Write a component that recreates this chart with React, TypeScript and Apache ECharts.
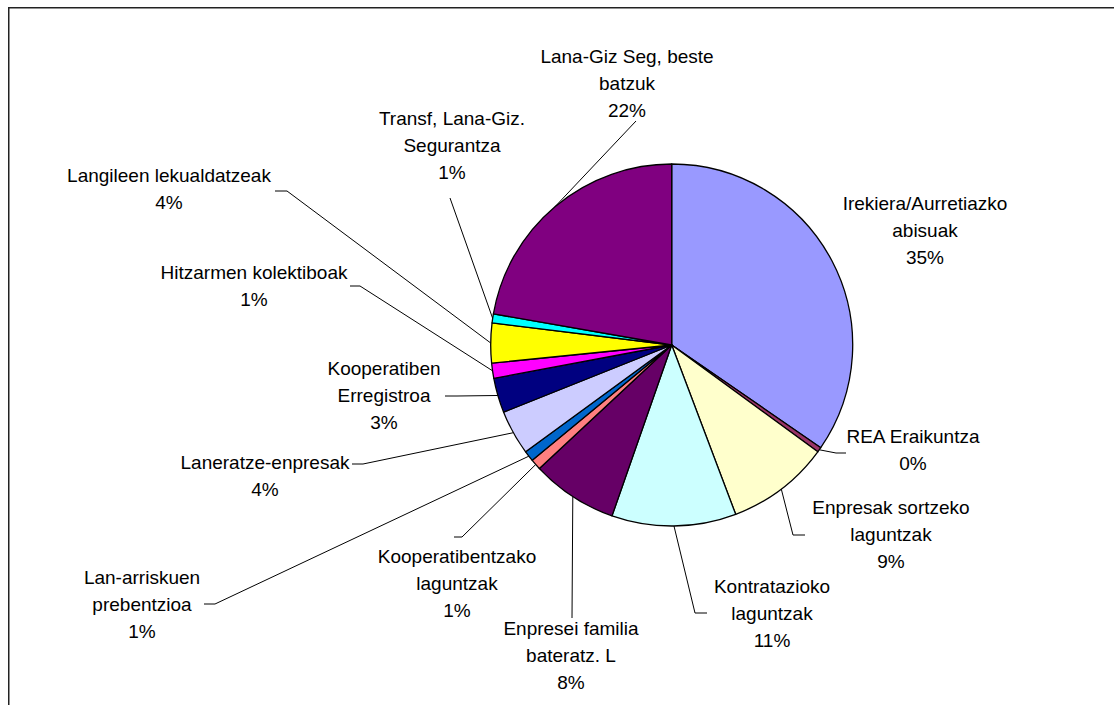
import React, { useEffect, useRef } from 'react';
import * as echarts from 'echarts';

const categories = [
  'Irekiera/Aurretiazko\nabisuak',
  'REA Eraikuntza',
  'Enpresak sortzeko\nlaguntzak',
  'Kontratazioko\nlaguntzak',
  'Enpresei familia\nbateratz. L',
  'Kooperatibentzako\nlaguntzak',
  'Lan-arriskuen\nprebentzioa',
  'Laneratze-enpresak',
  'Kooperatiben\nErregistroa',
  'Hitzarmen kolektiboak',
  'Langileen lekualdatzeak',
  'Transf, Lana-Giz.\nSegurantza',
  'Lana-Giz Seg, beste\nbatzuk',
];

const values = [34.6, 0.45, 9.2, 11.1, 7.7, 0.95, 0.95, 4.0, 3.1, 1.35, 3.55, 0.8, 22.25];

const colors = [
  '#9999FF', '#993366', '#FFFFCC', '#CCFFFF', '#660066', '#FF8080', '#0066CC',
  '#CCCCFF', '#000080', '#FF00FF', '#FFFF00', '#00FFFF', '#800080',
];

// label placement: [centerX, centerY, elbowX, elbowY, endX, endY]
const labelPos: number[][] = [
  [925, 230],
  [913, 450, 836, 453, 846, 453],
  [891, 534, 793, 535, 805, 535],
  [772, 613, 695, 613, 707, 613],
  [571, 655, 572, 618, 572, 618],
  [457, 583, 462, 537, 454, 537],
  [142, 604, 215, 604, 204, 604],
  [265, 476, 363, 464, 352, 464],
  [384, 395, 457, 396, 445, 396],
  [254, 286, 360, 286, 350, 286],
  [169, 189, 287, 191, 275, 191],
  [452, 145, 450, 198, 450, 198],
  [627, 83, 636, 121, 636, 121],
];

export default function App() {
  const ref = useRef<HTMLDivElement>(null);
  useEffect(() => {
    document.documentElement.style.overflow = 'hidden';
    const chart = echarts.init(ref.current!, null, { renderer: 'svg' });
    chart.setOption({
      animation: false,
      backgroundColor: '#ffffff',
      graphic: [
        { type: 'line', shape: { x1: 8, y1: 7.75, x2: 1114, y2: 7.75 }, style: { stroke: '#222', lineWidth: 1.5 } },
        { type: 'line', shape: { x1: 8.75, y1: 7, x2: 8.75, y2: 705 }, style: { stroke: '#222', lineWidth: 1.5 } },
      ],
      series: [
        {
          type: 'pie',
          center: [671.7, 345],
          radius: 181,
          startAngle: 90,
          clockwise: true,
          avoidLabelOverlap: false,
          minAngle: 0,
          emphasis: { disabled: true },
          data: categories.map((n, i) => ({
            name: n,
            value: values[i],
            itemStyle: { color: colors[i] },
            labelLine: { show: labelPos[i].length > 2 },
          })),
          itemStyle: { borderColor: '#000', borderWidth: 1.3 },
          label: {
            show: true,
            position: 'outside',
            formatter: (p: any) => `${p.name}\n${Math.round(p.percent)}%`,
            color: '#000',
            fontSize: 19,
            lineHeight: 27,
            fontFamily: 'Arial, "Liberation Sans", sans-serif',
            align: 'center',
          },
          labelLine: {
            show: true,
            length: 10,
            length2: 10,
            lineStyle: { color: '#000', width: 1 },
          },
          labelLayout: (params: any) => {
            const p = labelPos[params.dataIndex];
            const res: any = { x: p[0], y: p[1], align: 'center', verticalAlign: 'middle' };
            const pts = params.labelLinePoints;
            if (p.length > 2 && pts && pts[0]) {
              res.labelLinePoints = [pts[0], [p[2], p[3]], [p[4], p[5]]];
            }
            return res;
          },
        },
      ],
    });
    return () => chart.dispose();
  }, []);
  return (
    <div
      ref={ref}
      style={{ position: 'absolute', left: 0, top: 0, width: 1114, height: 705 }}
    />
  );
}
